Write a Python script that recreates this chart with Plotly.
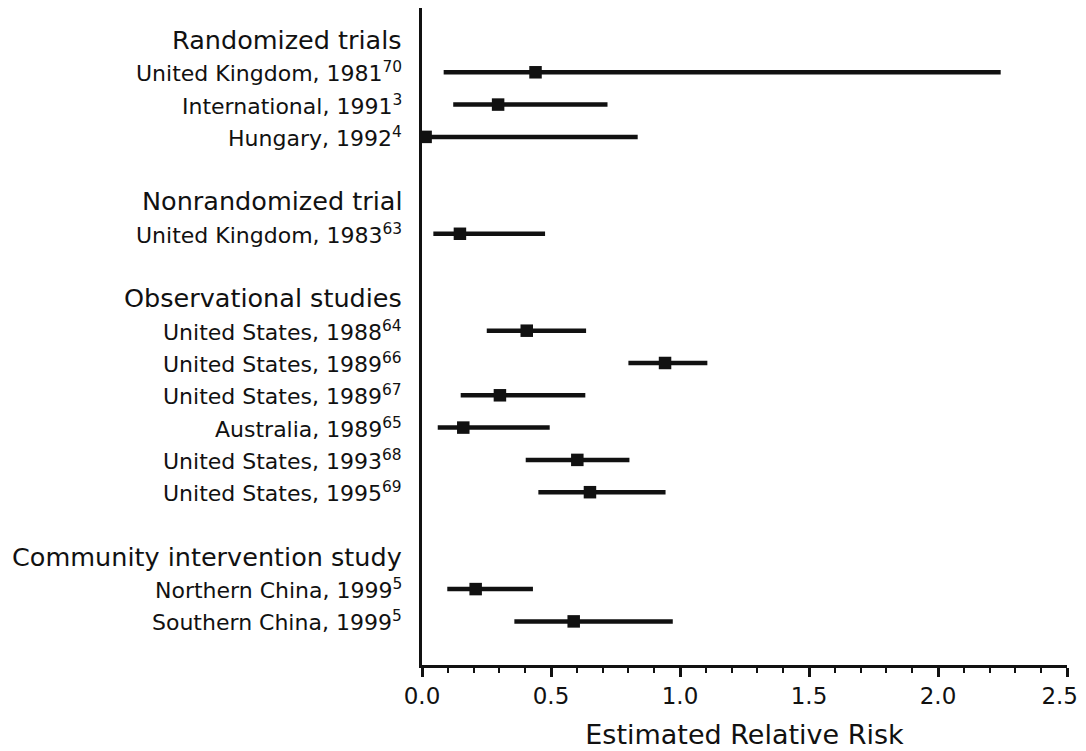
import plotly.graph_objects as go

# ---- data ----
groups = ["Randomized trials", "Nonrandomized trial", "Observational studies", "Community intervention study"]
group_sizes = [3, 1, 6, 2]
study_labels = [
    "United Kingdom, 1981<sup>70</sup>",
    "International, 1991<sup>3</sup>",
    "Hungary, 1992<sup>4</sup>",
    "United Kingdom, 1983<sup>63</sup>",
    "United States, 1988<sup>64</sup>",
    "United States, 1989<sup>66</sup>",
    "United States, 1989<sup>67</sup>",
    "Australia, 1989<sup>65</sup>",
    "United States, 1993<sup>68</sup>",
    "United States, 1995<sup>69</sup>",
    "Northern China, 1999<sup>5</sup>",
    "Southern China, 1999<sup>5</sup>",
]
estimate = [0.44, 0.295, 0.014, 0.147, 0.406, 0.942, 0.302, 0.160, 0.602, 0.651, 0.208, 0.588]
lower    = [0.084, 0.121, 0.0, 0.044, 0.251, 0.800, 0.150, 0.061, 0.402, 0.451, 0.098, 0.358]
upper    = [2.243, 0.719, 0.836, 0.477, 0.636, 1.106, 0.633, 0.495, 0.804, 0.944, 0.430, 0.972]
x_ticks = [0.0, 0.5, 1.0, 1.5, 2.0, 2.5]
x_title = "Estimated Relative Risk"

# ---- row layout (header row, study rows, blank row) ----
header_rows = []
study_rows = []
r = 0
for g, n in zip(groups, group_sizes):
    header_rows.append(r)
    r += 1
    for _ in range(n):
        study_rows.append(r)
        r += 1
    r += 1  # blank spacer

# tick texts; the last one is padded so it stays inside the visible page edge
tick_text = [f"{v:.1f}" for v in x_ticks]
tick_text[-1] = tick_text[-1] + "\u00a0\u00a0"

FONT = "DejaVu Sans, Verdana, sans-serif"
INK = "#111111"

fig = go.Figure()
fig.add_trace(go.Scatter(
    x=estimate, y=study_rows, mode="markers",
    marker=dict(symbol="square", size=12.5, color=INK),
    error_x=dict(type="data", symmetric=False,
                 array=[u - e for u, e in zip(upper, estimate)],
                 arrayminus=[e - l for e, l in zip(estimate, lower)],
                 color=INK, thickness=4.5, width=0),
    cliponaxis=False, showlegend=False, hoverinfo="skip",
))

annotations = []
for g, hr in zip(groups, header_rows):
    annotations.append(dict(text=g, xref="paper", x=0, y=hr, yref="y",
                            xanchor="right", yanchor="middle", xshift=-18, showarrow=False,
                            font=dict(family=FONT, size=25.5, color=INK)))
for lab, sr in zip(study_labels, study_rows):
    annotations.append(dict(text=lab, xref="paper", x=0, y=sr, yref="y",
                            xanchor="right", yanchor="middle", xshift=-18, showarrow=False,
                            font=dict(family=FONT, size=22, color=INK)))

# the page body adds an 8px offset; margins are set so the plot lands where the reference has it
fig.update_layout(
    width=1086, height=751,
    margin=dict(l=414, r=27, t=0, b=94),
    plot_bgcolor="white", paper_bgcolor="white",
    annotations=annotations,
    font=dict(family=FONT, color=INK, size=22),
    xaxis=dict(range=[0, 2.5], tickvals=x_ticks, ticktext=tick_text,
               showgrid=False, zeroline=False,
               showline=True, linecolor=INK, linewidth=2.5,
               ticks="outside", ticklen=9, tickwidth=2.5, tickcolor=INK,
               minor=dict(dtick=0.1, ticks="outside", ticklen=5, tickwidth=2, tickcolor=INK),
               tickfont=dict(family=FONT, size=23, color=INK),
               title=dict(text=x_title, standoff=17, font=dict(family=FONT, size=27, color=INK))),
    yaxis=dict(range=[19.35, -0.99], showgrid=False, zeroline=False,
               showline=True, linecolor=INK, linewidth=2.5,
               showticklabels=False, ticks=""),
)

fig.write_html("out.html", config={"displayModeBar": False})
